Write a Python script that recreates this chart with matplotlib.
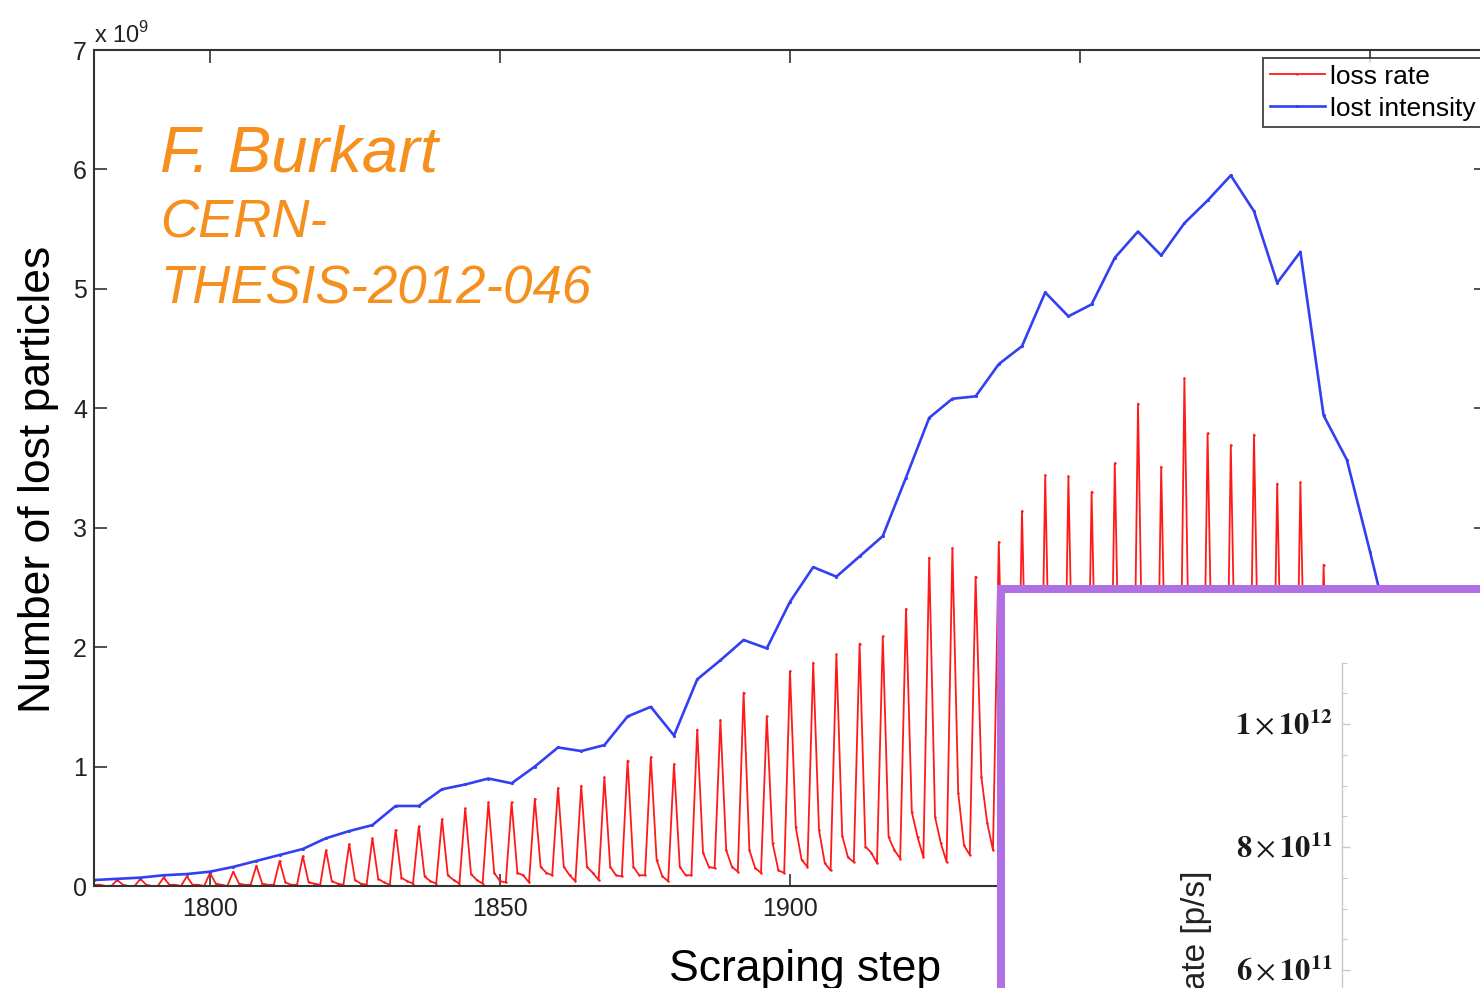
import numpy as np
import matplotlib
matplotlib.use("Agg")
import matplotlib.pyplot as plt
from matplotlib.ticker import FixedLocator, FixedFormatter, MultipleLocator

plt.rcParams['font.family'] = ['Liberation Sans', 'DejaVu Sans']

# lost intensity, one value per group of 4 scraping steps (x 1e9)
lost_intensity = [0.05, 0.06, 0.07, 0.09, 0.10, 0.12, 0.16, 0.21, 0.26, 0.31,
                  0.40, 0.46, 0.51, 0.67, 0.67, 0.81, 0.85, 0.90, 0.86, 1.00,
                  1.16, 1.13, 1.18, 1.42, 1.50, 1.26, 1.73, 1.89, 2.06, 1.99,
                  2.38, 2.67, 2.59, 2.76, 2.93, 3.42, 3.92, 4.08, 4.10, 4.37,
                  4.52, 4.97, 4.77, 4.87, 5.26, 5.48, 5.28, 5.55, 5.74, 5.95,
                  5.65, 5.05, 5.31, 3.94, 3.57, 2.80, 2.00]

# loss rate, one value per scraping step (x 1e9), rows of 4 steps
loss_rate = [0.01, 0.01, 0.00, 0.00,
             0.05, 0.01, 0.00, 0.00,
             0.06, 0.01, 0.00, 0.00,
             0.07, 0.01, 0.01, 0.00,
             0.08, 0.01, 0.01, 0.00,
             0.11, 0.02, 0.01, 0.00,
             0.12, 0.02, 0.01, 0.01,
             0.17, 0.02, 0.01, 0.01,
             0.21, 0.03, 0.01, 0.01,
             0.25, 0.03, 0.02, 0.01,
             0.30, 0.04, 0.02, 0.01,
             0.35, 0.05, 0.02, 0.01,
             0.40, 0.06, 0.03, 0.01,
             0.47, 0.07, 0.04, 0.02,
             0.50, 0.08, 0.04, 0.02,
             0.56, 0.09, 0.05, 0.02,
             0.65, 0.10, 0.05, 0.02,
             0.70, 0.11, 0.04, 0.03,
             0.70, 0.11, 0.09, 0.03,
             0.73, 0.16, 0.11, 0.09,
             0.82, 0.16, 0.09, 0.04,
             0.84, 0.16, 0.11, 0.05,
             0.91, 0.16, 0.09, 0.08,
             1.05, 0.16, 0.09, 0.09,
             1.08, 0.22, 0.08, 0.04,
             1.02, 0.16, 0.09, 0.09,
             1.31, 0.28, 0.16, 0.15,
             1.39, 0.30, 0.16, 0.12,
             1.62, 0.30, 0.15, 0.11,
             1.42, 0.36, 0.13, 0.11,
             1.80, 0.49, 0.22, 0.16,
             1.87, 0.47, 0.19, 0.13,
             1.94, 0.42, 0.24, 0.20,
             2.03, 0.33, 0.28, 0.19,
             2.09, 0.41, 0.30, 0.23,
             2.32, 0.62, 0.41, 0.24,
             2.75, 0.58, 0.36, 0.20,
             2.83, 0.78, 0.34, 0.26,
             2.59, 0.91, 0.53, 0.30,
             2.88, 0.85, 0.50, 0.30,
             3.14, 0.90, 0.50, 0.30,
             3.44, 1.00, 0.55, 0.30,
             3.43, 1.00, 0.55, 0.30,
             3.30, 0.95, 0.50, 0.30,
             3.54, 1.00, 0.55, 0.30,
             4.04, 1.10, 0.60, 0.35,
             3.51, 1.00, 0.55, 0.30,
             4.25, 1.20, 0.60, 0.35,
             3.79, 1.10, 0.60, 0.30,
             3.69, 1.05, 0.55, 0.30,
             3.78, 1.05, 0.55, 0.30,
             3.37, 0.95, 0.50, 0.30,
             3.38, 0.95, 0.50, 0.30,
             2.69, 0.80, 0.40, 0.25,
             2.10, 0.60, 0.30, 0.20,
             1.40]

first_step = 1780
x_ticks = [1800, 1850, 1900, 1950, 2000]
y_ticks = [0, 1, 2, 3, 4, 5, 6, 7]

rate_ticks = [6e11, 8e11, 1e12]
rate_labels = [r'$\mathbf{6}\times\mathbf{10}^{\mathbf{11}}$',
               r'$\mathbf{8}\times\mathbf{10}^{\mathbf{11}}$',
               r'$\mathbf{1}\times\mathbf{10}^{\mathbf{12}}$']

step_rate = first_step + np.arange(len(loss_rate))
step_int = first_step + 4 * np.arange(len(lost_intensity))

W, H = 1480, 988
fig = plt.figure(figsize=(W / 100, H / 100), dpi=100)
ax = fig.add_axes([94 / W, (H - 886) / H, (1486 - 94) / W, 836 / H])

ax.plot(step_rate, loss_rate, '.-', color='#ff1a1a', lw=1.3, ms=1.5, label='loss rate')
ax.plot(step_int, lost_intensity, '.-', color='#3340f2', lw=1.9, ms=2.5, label='lost intensity')

ax.set_xlim(1780, 2020)
ax.set_ylim(0, 7)
ax.set_xticks(x_ticks)
ax.set_yticks(y_ticks)
ax.tick_params(direction='in', length=9, width=1.2, top=True, right=True,
               labelsize=18, color='#333333', labelcolor='#222222')
ax.tick_params(axis='x', pad=8)
ax.tick_params(axis='y', pad=5)
for sp in ax.spines.values():
    sp.set_linewidth(1.5)
    sp.set_color('#333333')

ax.text(0.0, 1.003, r'x 10$^{\mathregular{9}}$', transform=ax.transAxes,
        fontsize=17, ha='left', va='bottom', color='#222222')
ax.set_ylabel('Number of lost particles', fontsize=32, labelpad=10)
ax.set_xlabel('Scraping step', fontsize=32, labelpad=20)
ax.yaxis.label.set_y(0.486)
ax.xaxis.label.set_x(0.511)

leg = ax.legend(loc='upper left', bbox_to_anchor=((1263 - 94) / 1392, (886 - 58) / 836),
                fancybox=False, edgecolor='#222222', fontsize=19, handlelength=2.1,
                handletextpad=0.2, borderpad=0.25, labelspacing=0.3,
                borderaxespad=0, numpoints=1)
leg.get_frame().set_linewidth(1.4)

orange = '#f5901e'
ax.text(160 / W, (H - 172) / H, 'F. Burkart', transform=fig.transFigure,
        fontsize=47, style='italic', color=orange, va='baseline', ha='left')
ax.text(160 / W, (H - 238) / H, 'CERN-', transform=fig.transFigure,
        fontsize=38, style='italic', color=orange, va='baseline', ha='left')
ax.text(160 / W, (H - 303) / H, 'THESIS-2012-046', transform=fig.transFigure,
        fontsize=38, style='italic', color=orange, va='baseline', ha='left')

# overlaid panel with purple frame
box = fig.add_axes([1001 / W, -0.2, 0.5, (H - 589) / H + 0.2])
box.set_facecolor('white')
box.set_xticks([])
box.set_yticks([])
for sp in box.spines.values():
    sp.set_linewidth(5.8)
    sp.set_color('#b06fe3')

# loss rate axis of the overlaid panel
y_lo, y_hi = 4e11, 1.1e12
px_per = 123 / 2e11
top_px = 724 - (y_hi - 1e12) * px_per
bot_px = 970 + (6e11 - y_lo) * px_per
rax = fig.add_axes([1342 / W, (H - bot_px) / H, 0.3, (bot_px - top_px) / H])
rax.patch.set_visible(False)
rax.set_ylim(y_lo, y_hi)
rax.set_xticks([])
for name in ['top', 'right', 'bottom']:
    rax.spines[name].set_visible(False)
rax.spines['left'].set_color('#c8c8c8')
rax.spines['left'].set_linewidth(1.0)
rax.yaxis.set_major_locator(FixedLocator(rate_ticks))
rax.yaxis.set_major_formatter(FixedFormatter(rate_labels))
rax.yaxis.set_minor_locator(MultipleLocator(5e10))
rax.tick_params(axis='y', which='major', direction='in', length=6, width=1.0,
                color='#c8c8c8', pad=7, labelsize=22, labelcolor='#1a1a1a')
rax.tick_params(axis='y', which='minor', direction='in', length=3.5, width=0.8,
                color='#c8c8c8')
for lab in rax.get_yticklabels():
    lab.set_math_fontfamily('stix')

fig.text(1197 / W, (H - 870) / H, 'Loss rate [p/s]', rotation=90, fontsize=24,
         ha='center', va='top', color='#222222')

fig.savefig('out.png', dpi=100)
